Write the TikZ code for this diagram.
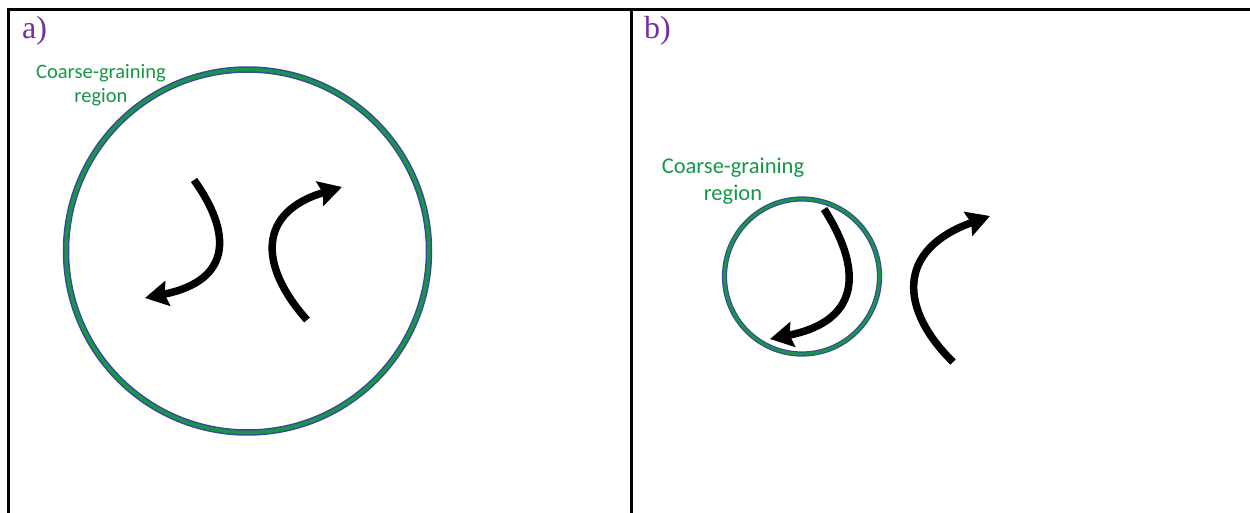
\documentclass[tikz,border=0pt]{standalone}
\usepackage{fontspec}
\setmainfont{Liberation Serif}
\newfontfamily\calibri{Carlito}
\usetikzlibrary{arrows.meta}

\definecolor{panelpurple}{RGB}{112,48,160}
\definecolor{ringgreen}{RGB}{22,150,72}
\definecolor{ringblue}{RGB}{62,72,150}

\begin{document}
\begin{tikzpicture}[
    x=1pt, y=-1pt,
    panel/.style={text=panelpurple, font=\fontsize{32}{34}\selectfont, inner sep=0, anchor=base west},
    region/.style={text=ringgreen, align=center, inner sep=0},
    ring/.style={circle, draw=ringblue, double=ringgreen, inner sep=0, outer sep=0},
    flow/.style={-{Stealth[length=23pt, width=25pt, inset=3pt]}, line width=7.5pt, black}
  ]
  \useasboundingbox (0,0) rectangle (1250,513);

  % Frame of the two panels
  \draw[line width=3pt] (7,9.5) -- (1250,9.5);
  \draw[line width=3pt] (8.5,9.5) -- (8.5,513);
  \draw[line width=3pt] (631,9.5) -- (631,513);

  % Panel a: large region
  \node (pa) [panel] at (22,39) {a)};
  \node (cga) [ring, line width=1.5pt, double distance=3.5pt, minimum size=363pt] at (247.5,251) {};
  \node (lba) [region, font=\calibri\fontsize{20.5}{24}\selectfont] at (101,85) {Coarse-graining\\region};

  \coordinate (a1s) at (194,180);
  \coordinate (a1e) at (145,298);
  \coordinate (a2s) at (307,320);
  \coordinate (a2e) at (342,187);
  \draw[flow] (a1s) .. controls (230,230) and (235,280) .. (a1e);
  \draw[flow] (a2s) .. controls (258,265) and (258,212) .. (a2e);

  % Panel b: small region
  \node (pb) [panel] at (644,39) {b)};
  \node (cgb) [ring, line width=1.2pt, double distance=2.8pt, minimum size=155pt] at (802,276.5) {};
  \node (lbb) [region, font=\calibri\fontsize{22.5}{27}\selectfont] at (733,181) {Coarse-graining\\region};

  \coordinate (b1s) at (824,209);
  \coordinate (b1e) at (770,339);
  \coordinate (b2s) at (953,362);
  \coordinate (b2e) at (990,216);
  \draw[flow] (b1s) .. controls (860,265) and (865,320) .. (b1e);
  \draw[flow] (b2s) .. controls (900,310) and (895,250) .. (b2e);
\end{tikzpicture}
\end{document}
